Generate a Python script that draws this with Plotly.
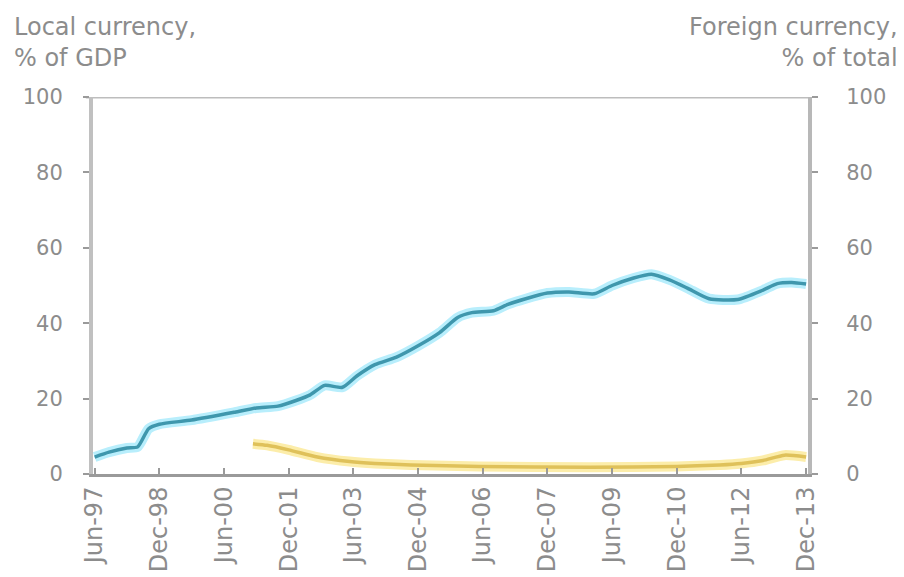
import plotly.graph_objects as go

# Local currency debt, % of GDP (left axis)
local_dates = ["1997-06-15", "1997-10-15", "1998-03-15", "1998-06-15", "1998-09-15",
               "1998-12-15", "1999-09-15", "2000-09-15", "2001-03-15", "2001-09-15",
               "2002-02-15", "2002-06-15", "2002-10-15", "2003-03-15", "2003-07-15",
               "2003-12-15", "2004-06-15", "2004-12-15", "2005-06-15", "2005-11-15",
               "2006-03-15", "2006-09-15", "2007-01-15", "2007-06-15", "2007-12-15",
               "2008-06-15", "2009-01-15", "2009-06-15", "2009-12-15", "2010-05-15",
               "2010-10-15", "2011-03-15", "2011-09-15", "2012-05-15", "2012-12-15",
               "2013-04-15", "2013-08-15", "2013-12-15"]
local_values = [4.5, 5.8, 6.9, 7.2, 12.0,
                13.2, 14.3, 16.4, 17.5, 18.0,
                19.5, 21.0, 23.5, 23.0, 26.0,
                29.0, 31.0, 34.0, 37.5, 41.5,
                42.8, 43.3, 45.0, 46.5, 48.0,
                48.3, 47.8, 50.0, 52.0, 53.0,
                51.5, 49.3, 46.5, 46.3, 48.8,
                50.5, 50.8, 50.4]

# Foreign currency debt, % of total (right axis)
foreign_dates = ["2001-02-15", "2001-06-15", "2001-12-15", "2002-08-15", "2003-05-15",
                 "2003-12-15", "2004-10-15", "2006-05-15", "2008-12-15", "2010-12-15",
                 "2011-12-15", "2012-06-15", "2012-12-15", "2013-06-15", "2013-12-15"]
foreign_values = [8.0, 7.6, 6.4, 4.5, 3.3,
                  2.8, 2.4, 2.0, 1.8, 2.0,
                  2.4, 2.8, 3.6, 5.0, 4.5]

tick_dates = ["1997-06-15", "1998-12-15", "2000-06-15", "2001-12-15", "2003-06-15",
              "2004-12-15", "2006-06-15", "2007-12-15", "2009-06-15", "2010-12-15",
              "2012-06-15", "2013-12-15"]
tick_labels = ["Jun-97", "Dec-98", "Jun-00", "Dec-01", "Jun-03", "Dec-04", "Jun-06",
               "Dec-07", "Jun-09", "Dec-10", "Jun-12", "Dec-13"]
y_ticks = [0, 20, 40, 60, 80, 100]

FONT = "DejaVu Sans"
GRAY = "#8c8c8c"

fig = go.Figure()
# soft glows
fig.add_trace(go.Scatter(x=local_dates, y=local_values, mode="lines",
                         line=dict(color="#b8eefc", width=10, shape="spline", smoothing=0.6),
                         hoverinfo="skip", showlegend=False))
fig.add_trace(go.Scatter(x=foreign_dates, y=foreign_values, mode="lines", yaxis="y2",
                         line=dict(color="#fcedaa", width=10, shape="spline", smoothing=0.6),
                         hoverinfo="skip", showlegend=False))
# core lines
fig.add_trace(go.Scatter(x=local_dates, y=local_values, mode="lines",
                         line=dict(color="#3f97ad", width=3.5, shape="spline", smoothing=0.6),
                         name="Local currency", showlegend=False))
fig.add_trace(go.Scatter(x=foreign_dates, y=foreign_values, mode="lines", yaxis="y2",
                         line=dict(color="#dfc15a", width=3.5, shape="spline", smoothing=0.6),
                         name="Foreign currency", showlegend=False))

fig.update_layout(
    width=896, height=569,
    margin=dict(l=85, r=96, t=89, b=103),
    paper_bgcolor="white", plot_bgcolor="white",
    font=dict(family=FONT, color=GRAY, size=20),
    xaxis=dict(
        type="date", range=["1997-06-01", "2013-12-31"],
        tickvals=tick_dates, ticktext=tick_labels, tickangle=-90,
        tickfont=dict(size=24, color=GRAY, family=FONT),
        showgrid=False, zeroline=False,
        showline=True, linecolor="#9a9a9a", linewidth=3,
        ticks="inside", ticklen=6, tickcolor="#9a9a9a", tickwidth=2,
        automargin=False,
    ),
    yaxis=dict(
        range=[0, 100], tickvals=y_ticks,
        showgrid=False, zeroline=False,
        showline=True, linecolor="#c0c0c0", linewidth=4,
        ticks="outside", ticklen=6, tickcolor="#9a9a9a", tickwidth=2,
        ticklabelstandoff=16,
        tickfont=dict(size=21, color=GRAY, family=FONT),
        automargin=False,
    ),
    yaxis2=dict(
        range=[0, 100], tickvals=y_ticks, overlaying="y", side="right",
        showgrid=False, zeroline=False,
        showline=True, linecolor="#b8b8b8", linewidth=4,
        ticks="outside", ticklen=6, tickcolor="#9a9a9a", tickwidth=2,
        ticklabelstandoff=24,
        tickfont=dict(size=21, color=GRAY, family=FONT),
        automargin=False,
    ),
    shapes=[dict(type="line", xref="paper", x0=-0.01, x1=1.0, yref="y", y0=100, y1=100,
                 line=dict(color="#bdbdbd", width=3), layer="below")],
    annotations=[
        dict(text="Local currency,<br>% of GDP", xref="paper", yref="paper",
             x=-0.113, y=1.228, xanchor="left", yanchor="top", align="left",
             showarrow=False, font=dict(size=24, color=GRAY, family=FONT)),
        dict(text="Foreign currency,<br>% of total", xref="paper", yref="paper",
             x=1.128, y=1.228, xanchor="right", yanchor="top", align="right",
             showarrow=False, font=dict(size=24, color=GRAY, family=FONT)),
    ],
)

fig.write_html("out.html")
